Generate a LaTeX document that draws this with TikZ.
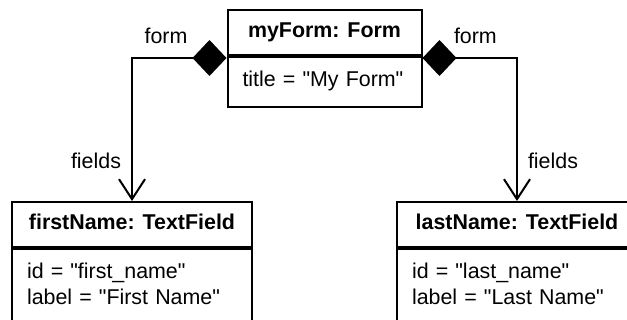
\documentclass[tikz,border=0pt]{standalone}
\usepackage{fontspec}
\setmainfont{Liberation Sans}[Ligatures=TeXOff]
\usetikzlibrary{arrows.meta}

\begin{document}
\begin{tikzpicture}[x=0.5pt,y=-0.5pt,line width=1pt,
    font=\fontsize{10.7pt}{13pt}\selectfont,
    classname/.style={draw,font=\fontsize{10.7pt}{13pt}\selectfont\bfseries,
      minimum height=22.5pt,text depth=.25em,inner sep=0pt},
    classattr/.style={draw,anchor=north,align=left,inner xsep=7.5pt,inner ysep=7pt},
    composition/.style={{Diamond[length=17pt,width=18pt]}-{Straight Barb[length=10pt,width=13pt]}},
    role/.style={inner sep=0pt}]
  \useasboundingbox (0,0) rectangle (627,320);
  \clip (0,0) rectangle (627,320);

  % object boxes: name part on top, attribute part below
  \node[classname,minimum width=97pt] (myForm) at (324.5,32.5) {myForm: Form};
  \node[classattr,text width=82pt,text depth=3.2pt] (myFormAttr) at (myForm.south) {title = "My Form"};

  \node[classname,minimum width=120pt] (firstName) at (132,224.5) {firstName: TextField};
  \node[classattr,text width=105pt,text depth=30pt] (firstNameAttr) at (firstName.south)
    {id = "first\_name"\\ label = "First Name"};

  \node[classname,minimum width=120pt] (lastName) at (517,224.5) {lastName: TextField};
  \node[classattr,text width=105pt,text depth=30pt] (lastNameAttr) at (lastName.south)
    {id = "last\_name"\\ label = "Last Name"};

  % composition links
  \draw[composition] ([yshift=-1pt]myForm.south west) -| (firstName.north)
    node[role,pos=0.32,above=6.5pt] (formLeft) {form}
    node[role,pos=0.86,left=5pt] (fieldsLeft) {fields};
  \draw[composition] ([yshift=-1pt]myForm.south east) -| (lastName.north)
    node[role,pos=0.28,above=6.5pt] (formRight) {form}
    node[role,pos=0.86,right=5pt] (fieldsRight) {fields};
\end{tikzpicture}
\end{document}
